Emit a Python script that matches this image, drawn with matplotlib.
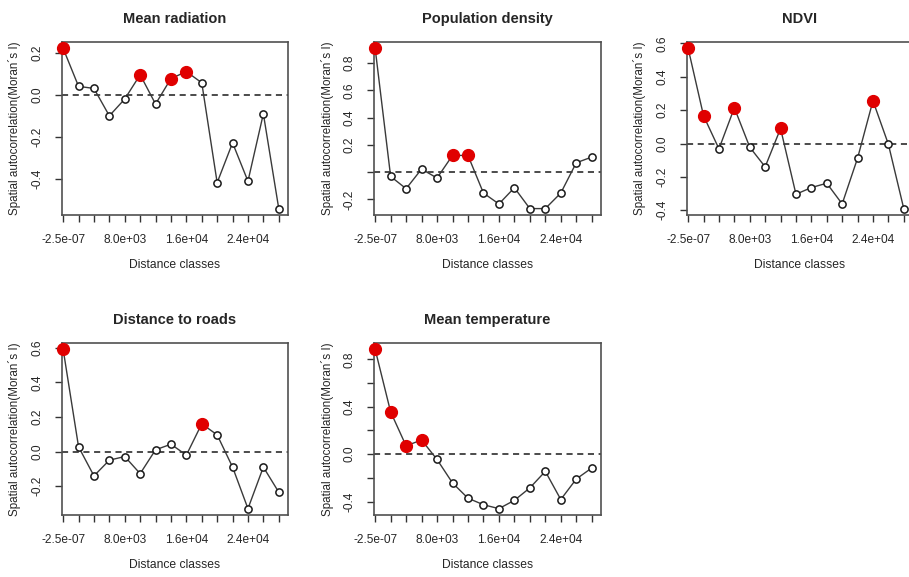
import matplotlib
matplotlib.use("Agg")
import matplotlib.pyplot as plt

plt.rcParams['font.family'] = ['Liberation Sans', 'DejaVu Sans']

# distance classes (class centres)
distance = [0, 2000, 4000, 6000, 8000, 10000, 12000, 14000,
            16000, 18000, 20000, 22000, 24000, 26000, 28000]
xtick_pos = [0, 8000, 16000, 24000]
xtick_lab = ["-2.5e-07", "8.0e+03", "1.6e+04", "2.4e+04"]

titles = ["Mean radiation", "Population density", "NDVI",
          "Distance to roads", "Mean temperature"]

mean_radiation = [0.22, 0.04, 0.03, -0.10, -0.02, 0.095, -0.044, 0.077,
                  0.11, 0.057, -0.417, -0.228, -0.41, -0.09, -0.54]
population_density = [0.907, -0.032, -0.122, 0.022, -0.044, 0.122, 0.122, -0.154,
                      -0.234, -0.115, -0.268, -0.268, -0.154, 0.068, 0.11]
ndvi = [0.57, 0.166, -0.032, 0.214, -0.022, -0.14, 0.09, -0.304,
        -0.264, -0.238, -0.362, -0.088, 0.256, -0.004, -0.39]
dist_roads = [0.59, 0.027, -0.141, -0.05, -0.029, -0.128, 0.01, 0.042,
              -0.021, 0.16, 0.096, -0.09, -0.33, -0.09, -0.235]
mean_temp = [0.885, 0.357, 0.07, 0.12, -0.045, -0.243, -0.372, -0.427,
             -0.46, -0.39, -0.285, -0.145, -0.383, -0.21, -0.117]

# significant classes (red dots), by index
sig_radiation = [0, 5, 7, 8]
sig_population = [0, 5, 6]
sig_ndvi = [0, 1, 3, 6, 12]
sig_roads = [0, 9]
sig_temp = [0, 1, 2, 3]

# y ticks and which ones carry a label
yt_radiation = [-0.4, -0.2, 0.0, 0.2]
yl_radiation = ["-0.4", "-0.2", "0.0", "0.2"]
yt_population = [-0.2, 0.0, 0.2, 0.4, 0.6, 0.8]
yl_population = ["-0.2", "", "0.2", "0.4", "0.6", "0.8"]
yt_ndvi = [-0.4, -0.2, 0.0, 0.2, 0.4, 0.6]
yl_ndvi = ["-0.4", "-0.2", "0.0", "0.2", "0.4", "0.6"]
yt_roads = [-0.2, 0.0, 0.2, 0.4, 0.6]
yl_roads = ["-0.2", "0.0", "0.2", "0.4", "0.6"]
yt_temp = [-0.4, -0.2, 0.0, 0.2, 0.4, 0.6, 0.8]
yl_temp = ["-0.4", "", "0.0", "", "0.4", "", "0.8"]

W, H = 909, 577
fig = plt.figure(figsize=(W / 100, H / 100), dpi=100)

# panel boxes in pixels: left, top, right, bottom
boxes = [(62, 42, 288, 215), (374, 42, 601, 215), (687, 42, 913, 215),
         (62, 343, 288, 515), (374, 343, 601, 515)]

panels = [
    (mean_radiation, sig_radiation, yt_radiation, yl_radiation),
    (population_density, sig_population, yt_population, yl_population),
    (ndvi, sig_ndvi, yt_ndvi, yl_ndvi),
    (dist_roads, sig_roads, yt_roads, yl_roads),
    (mean_temp, sig_temp, yt_temp, yl_temp),
]

txt = '#262626'
frame = '#505050'

for (vals, sig, yt, yl), title, (l, t, r, b) in zip(panels, titles, boxes):
    ax = fig.add_axes([l / W, 1 - b / H, (r - l) / W, (b - t) / H])
    ax.plot(distance, vals, color='#3a3a3a', lw=1.0, zorder=2)
    ax.plot(distance, vals, 'o', ms=5.2, mfc='white', mec='#1a1a1a',
            mew=1.1, zorder=3, clip_on=False)
    ax.plot([distance[i] for i in sig], [vals[i] for i in sig], 'o',
            ms=8.5, mfc='#e00000', mec='#e00000', zorder=4, clip_on=False)
    ax.axhline(0, color='#1a1a1a', lw=1.1, ls=(0, (4, 3)), zorder=1)

    ax.set_xlim(-150, 29200)
    ax.margins(y=0.04)

    ax.set_xticks(distance)
    ax.set_xticklabels([xtick_lab[xtick_pos.index(d)] if d in xtick_pos else ""
                        for d in distance])
    ax.set_yticks(yt)
    ax.set_yticklabels(yl, rotation=90, va='center')
    ax.tick_params(direction='out', length=5, width=1.0, color='#333333',
                   labelsize=8.6, labelcolor=txt)
    ax.tick_params(axis='x', pad=9)
    ax.tick_params(axis='y', pad=8)

    for s in ax.spines.values():
        s.set_color(frame)
        s.set_linewidth(1.2)

    ax.set_title(title, fontsize=10.5, fontweight='bold', color=txt, pad=14)
    ax.set_xlabel("Distance classes", fontsize=8.7, color=txt)
    ax.xaxis.set_label_coords(0.5, -50 / (b - t))
    ax.xaxis.label.set_va('center')
    ax.set_ylabel("Spatial autocorrelation(Moran\u00b4s I)", fontsize=8.4, color=txt)
    ax.yaxis.set_label_coords(-47 / (r - l), 0.5)
    ax.yaxis.label.set_va('center')

fig.savefig("out.png", dpi=100)
